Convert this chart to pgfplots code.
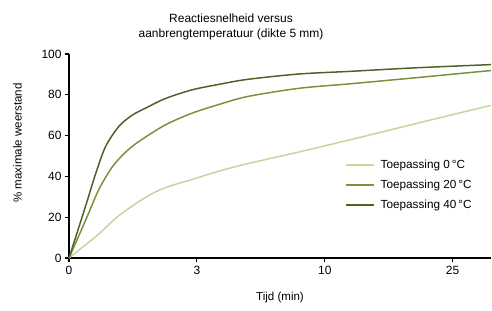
\documentclass[border=0pt]{standalone}
\usepackage{pgfplots}
\pgfplotsset{compat=1.18}
\usepackage{fontspec}
\setmainfont{Liberation Sans}
\definecolor{c0}{HTML}{C3D69B}
\definecolor{c20}{HTML}{77933C}
\definecolor{c40}{HTML}{4F6228}
\begin{document}
\begin{tikzpicture}
\path (-69bp,-53bp) rectangle (423bp,258bp);
\begin{axis}[
  at={(0,0)}, anchor=south west,
  scale only axis, width=422bp, height=204bp,
  xmin=0, xmax=3.3, ymin=0, ymax=100,
  xtick={0,1,2,3}, xticklabels={0,3,10,25},
  ytick={0,20,40,60,80,100},
  axis lines*=left,
  axis line style={line width=1.4pt, black},
  tick align=outside, major tick length=4bp,
  tick style={line width=1.2pt, black},
  /pgf/number format/assume math mode=true,
  tick label style={font=\fontsize{12}{14}\selectfont},
  xticklabel style={yshift=-0.5bp},
  xlabel={Tijd (min)},
  xlabel style={font=\fontsize{11.6}{13}\selectfont, at={(axis description cs:0.5,-0.196)}, anchor=center},
  ylabel={\% maximale weerstand},
  ylabel style={font=\fontsize{11.6}{13}\selectfont, at={(axis description cs:-0.122,0.564)}, anchor=center, rotate=0},
  title={Reactiesnelheid versus\\aanbrengtemperatuur (dikte 5 mm)},
  title style={font=\fontsize{12}{15}\selectfont, align=center, at={(axis description cs:0.384,1.105)}, anchor=center},
  legend style={at={(0.654,0.49)}, anchor=north west, draw=none, fill=none,
    font=\fontsize{11.8}{13}\selectfont, row sep=6bp, inner sep=0pt},
  legend cell align=left,
  legend image code/.code={\draw[#1, line cap=butt] plot coordinates {(0bp,0bp) (14bp,0bp) (28bp,0bp)}; \path (32bp,0bp);},
  clip=false,
]
\addplot[c0, line width=1.5pt, smooth] coordinates {
(0,0) (0.1,5) (0.233,11.8) (0.389,20.7) (0.598,29.7) (0.755,34.5) (0.967,38.6) (1.18,42.7) (1.4,46.3) (1.8,52) (2.2,58) (2.5,62.6) (3.0,70.3) (3.3,74.8)};
\addlegendentry{Toepassing 0\,°C}
\addplot[c20, line width=1.5pt, smooth] coordinates {
(0,0) (0.13,18.5) (0.233,33.5) (0.337,44.5) (0.441,51.8) (0.551,57.3) (0.755,65.3) (0.967,71.1) (1.18,75.4) (1.4,79.2) (1.8,83.2) (2.2,85.4) (2.7,88.3) (3.3,91.9)};
\addlegendentry{Toepassing 20\,°C}
\addplot[c40, line width=1.5pt, smooth] coordinates {
(0,0) (0.13,25.5) (0.207,41) (0.285,54.5) (0.39,64.5) (0.494,70) (0.6,73.5) (0.755,78.2) (0.967,82.5) (1.18,85.2) (1.4,87.6) (1.8,90.2) (2.2,91.5) (2.7,93.2) (3.3,94.8)};
\addlegendentry{Toepassing 40\,°C}
\end{axis}
\end{tikzpicture}
\end{document}
